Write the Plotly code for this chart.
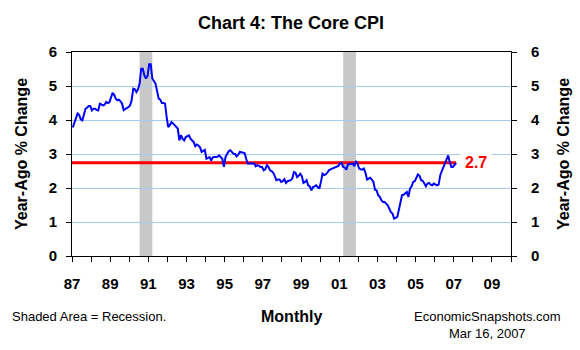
import plotly.graph_objects as go

# ---------------- data ----------------
start_year = 1987
# Core CPI, year-ago % change, monthly Jan 1987 .. Feb 2007
core_cpi = [
    3.78, 3.90, 4.05, 4.19, 4.15, 4.02, 3.99, 4.15, 4.33, 4.36, 4.41, 4.41,  # 1987
    4.28, 4.33, 4.33, 4.30, 4.28, 4.48, 4.46, 4.43, 4.45, 4.53, 4.50, 4.52,  # 1988
    4.66, 4.80, 4.74, 4.63, 4.58, 4.60, 4.55, 4.48, 4.29, 4.32, 4.33, 4.38,  # 1989
    4.43, 4.58, 4.92, 4.90, 4.82, 4.90, 5.07, 5.51, 5.51, 5.31, 5.22, 5.30,  # 1990
    5.64, 5.64, 5.22, 5.15, 5.07, 4.85, 4.63, 4.60, 4.50, 4.50, 4.48, 4.09,  # 1991
    3.79, 3.85, 3.94, 3.90, 3.84, 3.80, 3.75, 3.40, 3.55, 3.45, 3.40, 3.50,  # 1992
    3.52, 3.55, 3.45, 3.40, 3.35, 3.23, 3.28, 3.25, 3.20, 3.06, 3.10, 3.12,  # 1993
    2.86, 2.88, 2.91, 2.81, 2.90, 2.91, 2.92, 2.92, 2.96, 2.90, 2.86, 2.62,  # 1994
    2.91, 3.00, 3.08, 3.11, 3.05, 3.01, 3.00, 2.93, 2.98, 3.06, 3.05, 3.03,  # 1995
    3.03, 2.86, 2.72, 2.72, 2.72, 2.72, 2.72, 2.64, 2.67, 2.65, 2.62, 2.62,  # 1996
    2.52, 2.55, 2.67, 2.62, 2.52, 2.50, 2.45, 2.35, 2.23, 2.25, 2.25, 2.18,  # 1997
    2.20, 2.26, 2.15, 2.20, 2.22, 2.23, 2.28, 2.47, 2.45, 2.32, 2.36, 2.42,  # 1998
    2.35, 2.15, 2.18, 2.23, 2.08, 2.05, 1.93, 2.03, 2.05, 2.08, 2.03, 1.98,  # 1999
    2.18, 2.42, 2.38, 2.40, 2.45, 2.52, 2.55, 2.57, 2.60, 2.62, 2.65, 2.65,  # 2000
    2.72, 2.74, 2.62, 2.60, 2.54, 2.70, 2.70, 2.72, 2.72, 2.64, 2.79, 2.72,  # 2001
    2.57, 2.55, 2.54, 2.57, 2.45, 2.25, 2.28, 2.30, 2.25, 2.18, 1.95, 1.93,  # 2002
    1.79, 1.74, 1.64, 1.59, 1.59, 1.54, 1.49, 1.39, 1.29, 1.25, 1.10, 1.12,  # 2003
    1.15, 1.36, 1.54, 1.79, 1.80, 1.84, 1.88, 1.74, 1.98, 2.05, 2.18, 2.20,  # 2004
    2.30, 2.40, 2.36, 2.23, 2.21, 2.12, 2.05, 2.13, 2.15, 2.10, 2.08, 2.13,  # 2005
    2.10, 2.08, 2.10, 2.37, 2.50, 2.62, 2.76, 2.85, 2.96, 2.76, 2.62, 2.62,  # 2006
    2.67, 2.74,                                                              # 2007
]
recession_start = [(1990, 7), (2001, 3)]
recession_end = [(1991, 3), (2001, 11)]
tick_years = list(range(1987, 2011))
tick_labels = ["87", "89", "91", "93", "95", "97", "99", "01", "03", "05", "07", "09"]


def month_pos(year, month):
    return year + (month - 0.5) / 12.0


x_vals = [month_pos(start_year + i // 12, i % 12 + 1) for i in range(len(core_cpi))]
latest = core_cpi[-1]

# ---------------- layout geometry ----------------
W, H = 580, 350
L, R, T, B = 72, 69, 52, 94
PW, PH = W - L - R, H - T - B


def px(x):
    return (x - L) / PW


def py(y):
    return (H - B - y) / PH


FONT = "Liberation Sans, Arial, sans-serif"

fig = go.Figure()

# invisible trace so the right-hand axis is drawn
fig.add_trace(go.Scatter(
    x=[x_vals[0]], y=[latest], mode="markers", marker=dict(opacity=0),
    hoverinfo="skip", showlegend=False, yaxis="y2",
))
fig.add_trace(go.Scatter(
    x=[x_vals[0] - 0.04, x_vals[-1]], y=[latest, latest], mode="lines",
    line=dict(color="#FF0000", width=3), hoverinfo="skip", showlegend=False,
))
fig.add_trace(go.Scatter(
    x=x_vals, y=core_cpi, mode="lines",
    line=dict(color="#0000FF", width=2), hoverinfo="skip", showlegend=False,
))

for (sy, sm), (ey, em) in zip(recession_start, recession_end):
    fig.add_shape(type="rect", xref="x", yref="paper",
                  x0=month_pos(sy, sm), x1=month_pos(ey, em), y0=0, y1=1,
                  fillcolor="#C8C8C8", line=dict(width=0), layer="between")

ticktext = []
j = 0
for yr in tick_years:
    if (yr - 1987) % 2 == 0 and j < len(tick_labels):
        ticktext.append(tick_labels[j]); j += 1
    else:
        ticktext.append("")

tickfont = dict(family=FONT, size=15, color="black", weight="bold")

fig.update_layout(
    width=W, height=H,
    margin=dict(l=L, r=R, t=T, b=B, pad=0),
    paper_bgcolor="white", plot_bgcolor="white",
    title=dict(text="<b>Chart 4: The Core CPI</b>", x=291 / W, xanchor="center",
               y=1 - 23 / H, yanchor="middle", yref="container", xref="container",
               font=dict(family=FONT, size=18, color="black")),
    xaxis=dict(range=[1987, 2010], tickmode="array", tickvals=tick_years, ticktext=ticktext,
               ticks="outside", ticklen=5, tickcolor="black", tickwidth=1,
               showline=True, linecolor="black", linewidth=1, mirror=True,
               showgrid=False, zeroline=False, tickfont=tickfont, ticklabelstandoff=9),
    yaxis=dict(range=[0, 6], dtick=1, tick0=0, ticks="outside", ticklen=5, tickcolor="black",
               showline=True, linecolor="black", linewidth=1,
               showgrid=True, gridcolor="#A6CAF0", gridwidth=1, zeroline=False,
               tickfont=tickfont, ticklabelstandoff=6),
    yaxis2=dict(range=[0, 6], dtick=1, tick0=0, ticks="outside", ticklen=5, tickcolor="black",
                showline=True, linecolor="black", linewidth=1, overlaying="y", side="right",
                showgrid=False, zeroline=False, tickfont=tickfont, ticklabelstandoff=11),
    showlegend=False,
)

ann_font = dict(family=FONT, color="black")
annotations = [
    dict(text="<b>Year-Ago % Change</b>", x=px(21), y=py(154), textangle=-90,
         font=dict(size=16, **ann_font)),
    dict(text="<b>Year-Ago % Change</b>", x=px(563), y=py(154), textangle=-90,
         font=dict(size=16, **ann_font)),
    dict(text="Shaded Area = Recession.", x=px(10), y=py(316), xanchor="left",
         font=dict(size=13, **ann_font)),
    dict(text="<b>Monthly</b>", x=px(291), y=py(316), font=dict(size=16, **ann_font)),
    dict(text="EconomicSnapshots.com", x=px(487), y=py(316), font=dict(size=13, **ann_font)),
    dict(text="Mar 16, 2007", x=px(487), y=py(333), font=dict(size=13, **ann_font)),
]
for a in annotations:
    a.update(xref="paper", yref="paper", showarrow=False)
    a.setdefault("xanchor", "center")
    a.setdefault("yanchor", "middle")
    fig.add_annotation(**a)

fig.add_annotation(text=f"<b>{latest:.1f}</b>", x=2008.18, y=latest, xref="x", yref="y",
                   showarrow=False, xanchor="center", yanchor="middle",
                   bgcolor="white", borderpad=4,
                   font=dict(family=FONT, size=16, color="#FF0000"))

fig.write_html("out.html")
